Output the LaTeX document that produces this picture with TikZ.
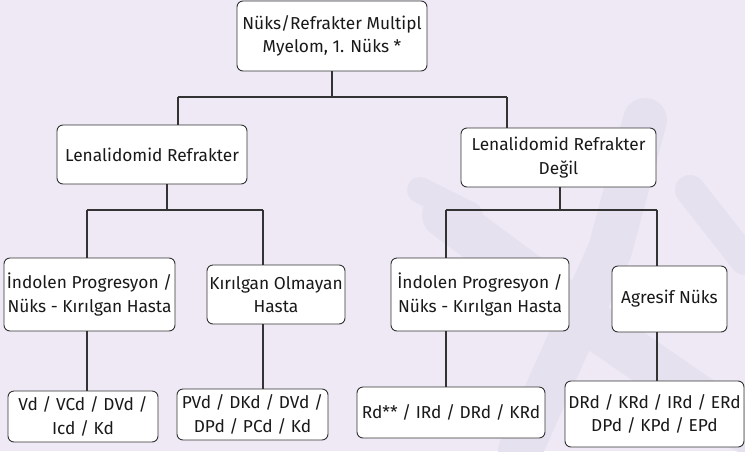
\documentclass[tikz,border=0pt]{standalone}
\usepackage{fontspec}
\setmainfont{Fira Sans}
\begin{document}
\begin{tikzpicture}[x=1pt,y=-1pt,
  box/.style={draw=black!80, line width=0.9pt, rounded corners=6pt, fill=white,
    align=center, inner sep=2pt, font=\fontsize{17.3}{23.5}\selectfont, text=black!90},
  link/.style={draw=black!80, line width=1.2pt}]
\definecolor{bgc}{HTML}{EEE9F4}
\definecolor{wmk}{HTML}{E5E1EF}
\useasboundingbox[fill=bgc] (0,0) rectangle (745,451);
% faint emblem behind the chart
\begin{scope}[wmk, line cap=round, line join=round]
  \draw[line width=46pt] (445,215) -- (600,330) -- (745,430);
  \draw[line width=44pt] (645,120) -- (610,250) -- (520,451);
  \draw[line width=30pt] (690,190) -- (745,260);
  \draw[line width=26pt] (420,190) -- (470,215);
\end{scope}
% boxes
\node[box, minimum width=190pt, minimum height=70pt] (top) at (332,36) {Nüks/Refrakter Multipl\\Myelom, 1. Nüks *};
\node[box, minimum width=190pt, minimum height=59pt] (L) at (152,154.5) {Lenalidomid Refrakter};
\node[box, minimum width=195pt, minimum height=59pt] (R) at (558.5,157.5) {Lenalidomid Refrakter\\Değil};
\node[box, minimum width=171pt, minimum height=73pt] (A1) at (89.5,294.5) {İndolen Progresyon /\\Nüks - Kırılgan Hasta};
\node[box, minimum width=138pt, minimum height=59pt] (A2) at (276,294.5) {Kırılgan Olmayan\\Hasta};
\node[box, minimum width=178pt, minimum height=73pt] (B1) at (480,294.5) {İndolen Progresyon /\\Nüks - Kırılgan Hasta};
\node[box, minimum width=115pt, minimum height=66pt] (B2) at (669.5,299) {Agresif Nüks};
\node[box, minimum width=150pt, minimum height=51pt] (C1) at (83,416.5) {Vd / VCd / DVd /\\Icd / Kd};
\node[box, minimum width=151pt, minimum height=51pt] (C2) at (252.5,414.5) {PVd / DKd / DVd /\\DPd / PCd / Kd};
\node[box, minimum width=188pt, minimum height=51pt] (C3) at (451,412.5) {Rd** / IRd / DRd / KRd};
\node[box, minimum width=179pt, minimum height=66pt] (C4) at (654.5,414) {DRd / KRd / IRd / ERd\\DPd / KPd / EPd};
% branch points
\coordinate (t1) at (178,97);
\coordinate (t2) at (507,97);
\coordinate (l0) at (167,210);
\coordinate (l1) at (87,210);
\coordinate (l2) at (263,210);
\coordinate (r0) at (560,210);
\coordinate (r1) at (446,210);
\coordinate (r2) at (657,210);
% connectors
\draw[link] (top.south) -- (top.south |- t1);
\draw[link] (t1) -- (t2);
\draw[link] (t1) -- (t1 |- L.north);
\draw[link] (t2) -- (t2 |- R.north);
\draw[link] (l0 |- L.south) -- (l0);
\draw[link] (l1) -- (l2);
\draw[link] (l1) -- (l1 |- A1.north);
\draw[link] (l2) -- (l2 |- A2.north);
\draw[link] (r0 |- R.south) -- (r0);
\draw[link] (r1) -- (r2);
\draw[link] (r1) -- (r1 |- B1.north);
\draw[link] (r2) -- (r2 |- B2.north);
\draw[link] (l1 |- A1.south) -- (l1 |- C1.north);
\draw[link] (l2 |- A2.south) -- (l2 |- C2.north);
\draw[link] (r1 |- B1.south) -- (r1 |- C3.north);
\draw[link] (r2 |- B2.south) -- (r2 |- C4.north);
\end{tikzpicture}
\end{document}
